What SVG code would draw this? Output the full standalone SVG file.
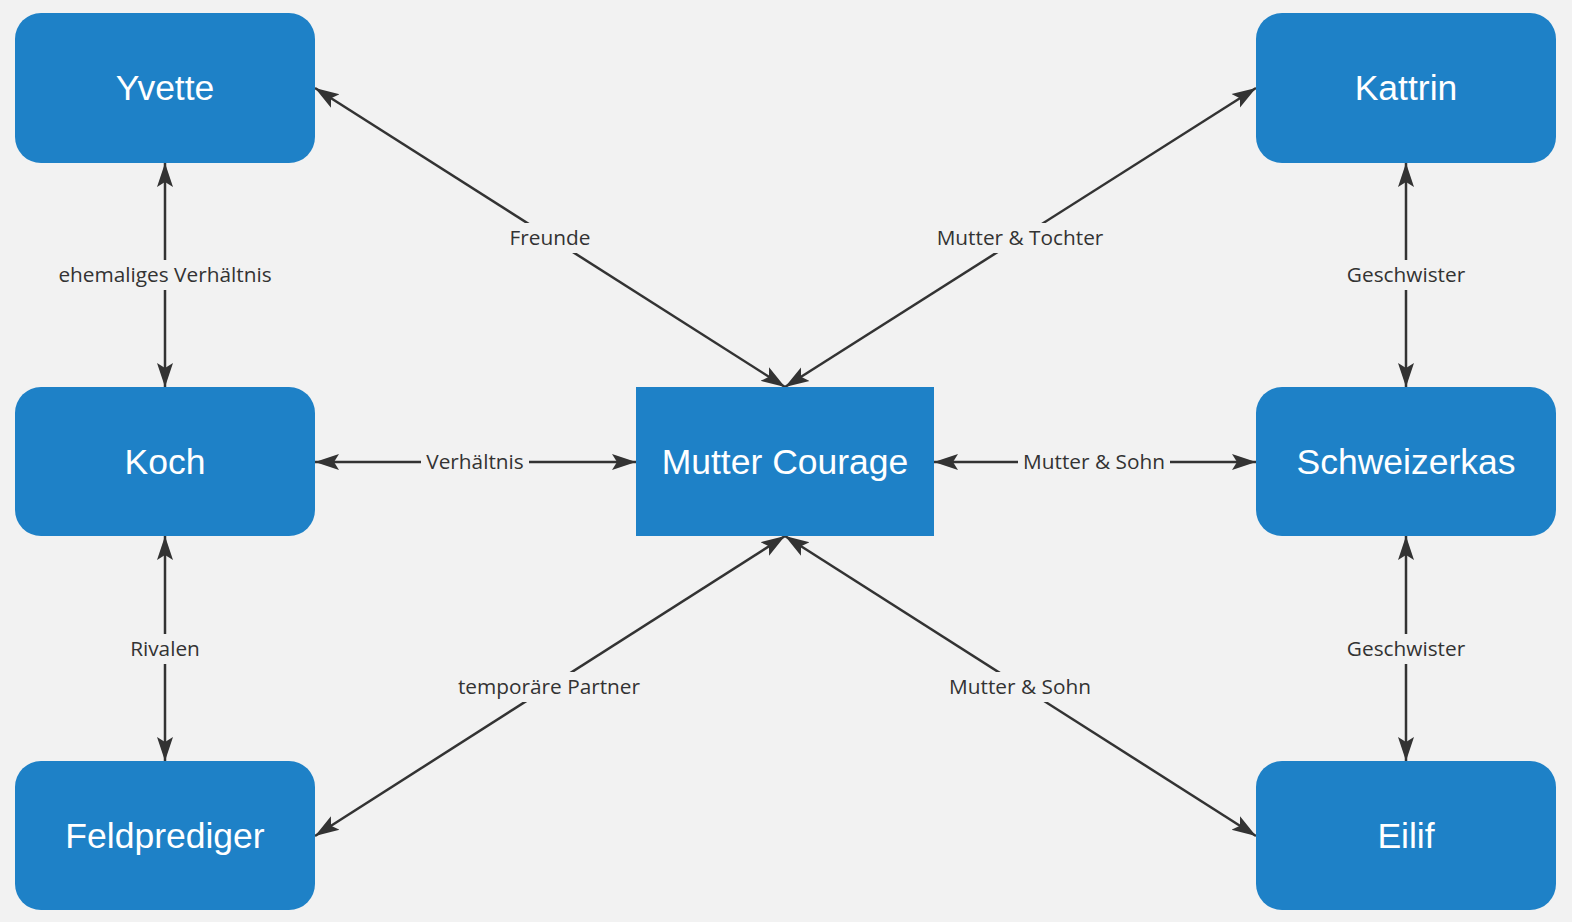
<svg xmlns="http://www.w3.org/2000/svg" width="1572" height="922" viewBox="0 0 1572 922">
<defs>
<style>
.node rect{fill:#1e81c7;}
.node text{font-family:"Liberation Sans",Arial,sans-serif;font-size:35.5px;fill:#ffffff;text-anchor:middle;}
.conn line{stroke:#333333;stroke-width:2.5;marker-start:url(#ah);marker-end:url(#ah);}
.lbl rect{fill:#f2f2f2;}
.lbl text{font-family:"Open Sans","Noto Sans",sans-serif;font-size:20.8px;fill:#333333;text-anchor:middle;}
</style>
<marker id="ah" markerUnits="userSpaceOnUse" markerWidth="24" markerHeight="18" viewBox="0 0 24 16" refX="24" refY="8" orient="auto-start-reverse">
<path d="M0,0 L24,8 L0,16 L5,8 z" fill="#333333"/>
</marker>
</defs>
<rect x="0" y="0" width="1572" height="922" fill="#f2f2f2"/>
<g id="connectors" class="conn">
<line x1="165" y1="163" x2="165" y2="387"/>
<line x1="165" y1="536" x2="165" y2="761"/>
<line x1="1406" y1="163" x2="1406" y2="387"/>
<line x1="1406" y1="536" x2="1406" y2="761"/>
<line x1="315" y1="462" x2="636" y2="462"/>
<line x1="934" y1="462" x2="1256" y2="462"/>
<line x1="315" y1="88" x2="785" y2="387"/>
<line x1="1256" y1="88" x2="785" y2="387"/>
<line x1="315" y1="836" x2="785" y2="536"/>
<line x1="1256" y1="836" x2="785" y2="536"/>
</g>
<g id="labels" class="lbl">
<g id="lbl-freunde"><rect x="504" y="223" width="92" height="30"/><text x="550" y="245">Freunde</text></g>
<g id="lbl-tochter"><rect x="931" y="223" width="178" height="30"/><text x="1020" y="245">Mutter &amp; Tochter</text></g>
<g id="lbl-ehemalig"><rect x="52" y="260" width="226" height="30"/><text x="165" y="282">ehemaliges Verhältnis</text></g>
<g id="lbl-geschw1"><rect x="1341" y="260" width="130" height="30"/><text x="1406" y="282">Geschwister</text></g>
<g id="lbl-verh"><rect x="421" y="447" width="108" height="30"/><text x="475" y="469">Verhältnis</text></g>
<g id="lbl-sohn1"><rect x="1018" y="447" width="152" height="30"/><text x="1094" y="469">Mutter &amp; Sohn</text></g>
<g id="lbl-rivalen"><rect x="125" y="634" width="80" height="30"/><text x="165" y="656">Rivalen</text></g>
<g id="lbl-partner"><rect x="453" y="672" width="192" height="30"/><text x="549" y="694">temporäre Partner</text></g>
<g id="lbl-sohn2"><rect x="944" y="672" width="152" height="30"/><text x="1020" y="694">Mutter &amp; Sohn</text></g>
<g id="lbl-geschw2"><rect x="1341" y="634" width="130" height="30"/><text x="1406" y="656">Geschwister</text></g>
</g>
<g id="yvette" class="node"><rect x="15" y="13" width="300" height="150" rx="26"/><text x="165" y="100">Yvette</text></g>
<g id="kattrin" class="node"><rect x="1256" y="13" width="300" height="150" rx="26"/><text x="1406" y="100">Kattrin</text></g>
<g id="koch" class="node"><rect x="15" y="387" width="300" height="149" rx="26"/><text x="165" y="474">Koch</text></g>
<g id="mutter-courage" class="node"><rect x="636" y="387" width="298" height="149"/><text x="785" y="474">Mutter Courage</text></g>
<g id="schweizerkas" class="node"><rect x="1256" y="387" width="300" height="149" rx="26"/><text x="1406" y="474">Schweizerkas</text></g>
<g id="feldprediger" class="node"><rect x="15" y="761" width="300" height="149" rx="26"/><text x="165" y="848">Feldprediger</text></g>
<g id="eilif" class="node"><rect x="1256" y="761" width="300" height="149" rx="26"/><text x="1406" y="848">Eilif</text></g>
</svg>
